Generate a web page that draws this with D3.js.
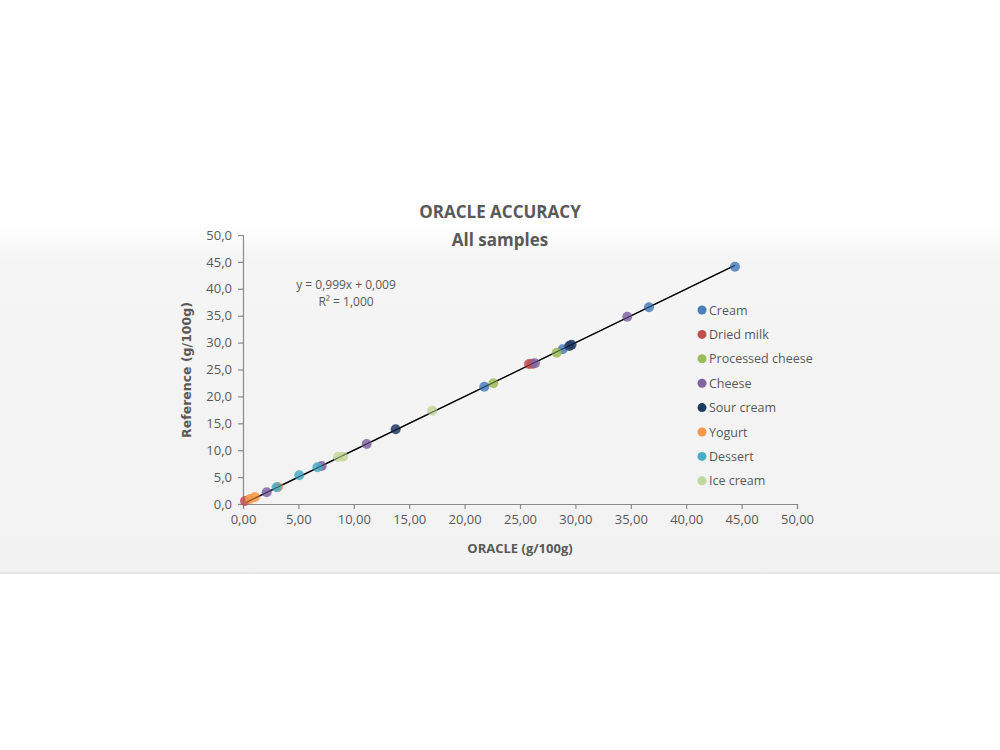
<!DOCTYPE html>
<html><head><meta charset="utf-8">
<script src="https://cdn.jsdelivr.net/npm/d3@7"></script>
<style>body{margin:0;background:#fff;} svg{display:block;}</style>
</head><body>
<svg id="c" width="1000" height="750"></svg>
<script>
const categories = ["Cream","Dried milk","Processed cheese","Cheese","Sour cream","Yogurt","Dessert","Ice cream"];
const colors = ["#4a7ebb","#c0504d","#9bbb59","#8064a2","#1f3a60","#f79646","#4bacc6","#c3d69b"];
const creamX = [44.40, 36.64, 21.78, 28.85];
const creamY = [44.11, 36.56, 21.80, 28.75];
const driedMilkX = [0.18, 25.81, 26.10];
const driedMilkY = [0.56, 26.02, 26.05];
const processedCheeseX = [22.59, 28.31];
const processedCheeseY = [22.43, 28.12];
const cheeseX = [2.14, 7.10, 11.16, 26.35, 34.68];
const cheeseY = [2.17, 7.06, 11.15, 26.15, 34.81];
const sourCreamX = [13.78, 29.45, 29.65];
const sourCreamY = [13.88, 29.37, 29.60];
const yogurtX = [0.63, 1.08, 3.16];
const yogurtY = [0.93, 1.30, 3.16];
const dessertX = [3.04, 5.08, 6.71];
const dessertY = [3.10, 5.33, 6.82];
const iceCreamX = [8.57, 9.03, 17.08];
const iceCreamY = [8.74, 8.79, 17.34];
const xTicks = [0,5,10,15,20,25,30,35,40,45,50];
const yTicks = [0,5,10,15,20,25,30,35,40,45,50];
const slope = 0.999, intercept = 0.009;
const trendX = [0.3, 44.4];
const title1 = "ORACLE ACCURACY", title2 = "All samples";
const xTitle = "ORACLE (g/100g)", yTitle = "Reference (g/100g)";
const eq1 = "y = 0,999x + 0,009", eq2 = "R² = 1,000";

const seriesX = [creamX, driedMilkX, processedCheeseX, cheeseX, sourCreamX, yogurtX, dessertX, iceCreamX];
const seriesY = [creamY, driedMilkY, processedCheeseY, cheeseY, sourCreamY, yogurtY, dessertY, iceCreamY];

const svg = d3.select("#c");
const defs = svg.append("defs");
const g = defs.append("linearGradient").attr("id","bg").attr("x1",0).attr("y1",0).attr("x2",0).attr("y2",1);
g.append("stop").attr("offset","0").attr("stop-color","#ffffff");
g.append("stop").attr("offset","0.1").attr("stop-color","#f5f5f5");
g.append("stop").attr("offset","1").attr("stop-color","#f2f2f2");
defs.append("filter").attr("id","blur").append("feGaussianBlur").attr("stdDeviation",0.6);

svg.append("rect").attr("x",0).attr("y",225).attr("width",1000).attr("height",348).attr("fill","url(#bg)");
svg.append("rect").attr("x",0).attr("y",572).attr("width",1000).attr("height",2).attr("fill","#e8e8e8");

const font = "'Open Sans', 'Noto Sans', sans-serif";
const txt = "#595959";
const x = d3.scaleLinear().domain([0,50]).range([243,797]);
const y = d3.scaleLinear().domain([0,50]).range([504,235]);

const fmtX = d => d.toFixed(2).replace(".",",");
const fmtY = d => d.toFixed(1).replace(".",",");

const xa = svg.append("g").attr("transform","translate(0,504)")
  .call(d3.axisBottom(x).tickValues(xTicks).tickFormat(fmtX).tickSizeOuter(0).tickSize(5).tickPadding(6));
const ya = svg.append("g").attr("transform","translate(243,0)")
  .call(d3.axisLeft(y).tickValues(yTicks).tickFormat(fmtY).tickSizeOuter(0).tickSize(5).tickPadding(6));
[xa,ya].forEach(a=>{
  a.selectAll("path,line").attr("stroke","#8a8a8a").attr("stroke-width",1.2);
  a.selectAll("text").attr("fill",txt).style("font-family",font).style("font-size","13px");
});

// trendline
svg.append("line")
  .attr("x1",x(trendX[0])).attr("y1",y(slope*trendX[0]+intercept))
  .attr("x2",x(trendX[1])).attr("y2",y(slope*trendX[1]+intercept))
  .attr("stroke","#000").attr("stroke-width",1.4);

// points
categories.forEach((c,i)=>{
  svg.append("g").selectAll("circle").data(seriesX[i].map((v,j)=>[v,seriesY[i][j]]))
    .join("circle").attr("cx",d=>x(d[0])).attr("cy",d=>y(d[1])).attr("r",5)
    .attr("fill",colors[i]).attr("fill-opacity",0.85).attr("filter","url(#blur)");
});

// redraw trendline thinly over points (line visible through)
svg.append("line")
  .attr("x1",x(trendX[0])).attr("y1",y(slope*trendX[0]+intercept))
  .attr("x2",x(trendX[1])).attr("y2",y(slope*trendX[1]+intercept))
  .attr("stroke","#000").attr("stroke-width",0.8).attr("stroke-opacity",0.6);

// titles
svg.append("text").attr("x",500).attr("y",218).attr("text-anchor","middle")
  .style("font-family",font).style("font-size","17px").style("font-weight","bold").attr("fill","#595959").text(title1);
svg.append("text").attr("x",500).attr("y",246).attr("text-anchor","middle")
  .style("font-family",font).style("font-size","17px").style("font-weight","bold").attr("fill","#595959").text(title2);
svg.append("text").attr("x",520).attr("y",553).attr("text-anchor","middle")
  .style("font-family",font).style("font-size","13px").style("font-weight","bold").attr("fill",txt).text(xTitle);
svg.append("text").attr("transform","translate(191,370) rotate(-90)").attr("text-anchor","middle")
  .style("font-family","'DejaVu Sans', sans-serif").style("font-size","12.5px").style("font-weight","bold").attr("fill",txt).text(yTitle);

// equation
svg.append("text").attr("x",346).attr("y",289).attr("text-anchor","middle")
  .style("font-family",font).style("font-size","12px").attr("fill",txt).text(eq1);
svg.append("text").attr("x",346).attr("y",306).attr("text-anchor","middle")
  .style("font-family",font).style("font-size","12px").attr("fill",txt).text(eq2);

// legend
const leg = svg.append("g");
categories.forEach((c,i)=>{
  const yy = 310 + i*24.4;
  leg.append("circle").attr("cx",702).attr("cy",yy).attr("r",4.5).attr("fill",colors[i]);
  leg.append("text").attr("x",709).attr("y",yy+4.5).style("font-family",font).style("font-size","12.5px")
    .attr("fill",txt).text(c);
});
</script>
</body></html>
